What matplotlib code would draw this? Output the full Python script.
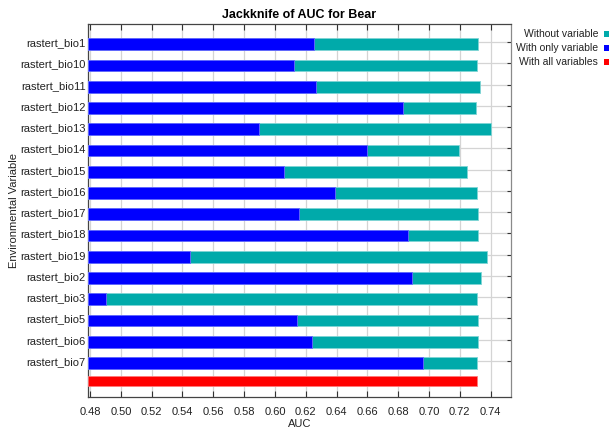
import matplotlib
matplotlib.use("Agg")
import matplotlib.pyplot as plt
from matplotlib.patches import Rectangle

plt.rcParams['font.family'] = ['Liberation Sans', 'DejaVu Sans']

variables = ["rastert_bio1", "rastert_bio10", "rastert_bio11", "rastert_bio12",
             "rastert_bio13", "rastert_bio14", "rastert_bio15", "rastert_bio16",
             "rastert_bio17", "rastert_bio18", "rastert_bio19", "rastert_bio2",
             "rastert_bio3", "rastert_bio5", "rastert_bio6", "rastert_bio7"]
auc_without = [0.7316, 0.7309, 0.7331, 0.7303, 0.7400, 0.7195, 0.7244, 0.7309,
               0.7320, 0.7320, 0.7378, 0.7340, 0.7309, 0.7316, 0.7316, 0.7309]
auc_only = [0.6254, 0.6126, 0.6269, 0.6829, 0.5897, 0.6600, 0.6057, 0.6390,
            0.6154, 0.6864, 0.5449, 0.6888, 0.4904, 0.6143, 0.6239, 0.6961]
auc_all = 0.7309

x_ticks = [0.48, 0.50, 0.52, 0.54, 0.56, 0.58, 0.60, 0.62, 0.64, 0.66, 0.68,
           0.70, 0.72, 0.74]

TEAL = "#00aaaa"
BLUE = "#0000ff"
RED = "#ff0000"

fig = plt.figure(figsize=(6.11, 4.30), dpi=100)
ax = fig.add_axes([88.3 / 611, 1 - 397 / 430, (510.7 - 88.3) / 611, (397 - 24) / 430])

x0 = 0.4789
rows = list(range(len(variables)))
bar_h = 0.55

ax.barh(rows, [v - x0 for v in auc_without], left=x0, height=bar_h,
        color=TEAL, edgecolor="#7fd4d4", linewidth=0.6, zorder=3)
ax.barh(rows, [v - x0 for v in auc_only], left=x0, height=bar_h,
        color=BLUE, edgecolor="#6a6aff", linewidth=0.6, zorder=4)
ax.barh([len(variables) - 0.14], [auc_all - x0], left=x0, height=0.46,
        color=RED, edgecolor="#ff7a7a", linewidth=0.6, zorder=4)

ax.set_xlim(x0, 0.753)
ax.set_ylim(16.6, -0.955)

ax.set_xticks(x_ticks)
ax.set_xticklabels([f"{t:.2f}" for t in x_ticks], fontsize=8)
ax.set_yticks([r - 0.1 for r in rows])
ax.set_yticklabels(variables, fontsize=8)

ax.tick_params(axis='x', direction='in', top=True, bottom=True, length=4,
               width=0.8, color="#333333", pad=7, labelcolor="#222222")
ax.tick_params(axis='y', direction='in', left=False, right=True, length=3,
               width=0.8, color="#333333", pad=2, labelcolor="#222222")

ax.grid(True, color="#d4d4d4", linewidth=0.9, zorder=0)
ax.set_axisbelow(True)

for side in ("left", "bottom", "top"):
    ax.spines[side].set_color("#444444")
    ax.spines[side].set_linewidth(0.9)
ax.spines["right"].set_color("#8a8a8a")
ax.spines["right"].set_linewidth(0.9)

ax.set_title("Jackknife of AUC for Bear", fontsize=9, fontweight="bold", pad=4)
ax.set_xlabel("AUC", fontsize=8, labelpad=1.5, color="#222222")
ax.set_ylabel("Environmental Variable", fontsize=8, labelpad=1, color="#222222")

legend_items = [("Without variable", TEAL), ("With only variable", BLUE),
                ("With all variables", RED)]
for i, (label, color) in enumerate(legend_items):
    yc = 34 + i * 14
    fig.text(598 / 611, 1 - yc / 430, label, ha="right", va="center",
             fontsize=7.5, color="#222222")
    fig.add_artist(Rectangle((604 / 611, 1 - (yc + 2.5) / 430), 5 / 611, 5 / 430,
                             transform=fig.transFigure, facecolor=color,
                             edgecolor="none"))

fig.savefig("out.png", dpi=100)
